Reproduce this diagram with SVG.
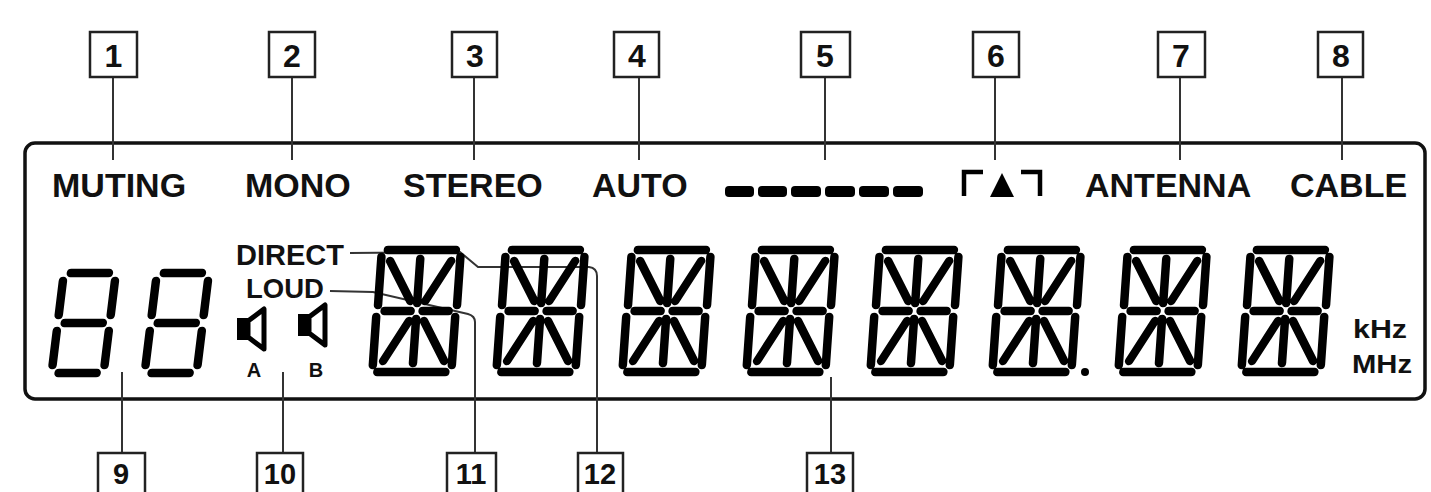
<svg xmlns="http://www.w3.org/2000/svg" width="1431" height="492" viewBox="0 0 1431 492">
<style>
.bx{fill:#fff;stroke:#222;stroke-width:2.5}
.num{font-family:"Liberation Sans",Arial,sans-serif;font-weight:bold;font-size:32px;fill:#111;text-anchor:middle}
.bnum{font-size:29px}
.lbl{font-family:"Liberation Sans",Arial,sans-serif;font-weight:bold;font-size:34px;fill:#111}
.sm{font-family:"Liberation Sans",Arial,sans-serif;font-weight:bold;fill:#111}
.seg{stroke:#000;stroke-width:8.5;stroke-linecap:round;fill:none}
.con{stroke:#333;stroke-width:2;fill:none}
</style>
<defs>
<g id="d14">
<path class="seg" d="M11,-127 H79 M9,-5 H77 M5,-120 V-72 M4,-60 V-12 M84,-120 V-72 M83,-60 V-12 M12,-66 H38 M50,-66 H76 M44,-118 V-74 M44,-58 V-14 M14,-116 L37,-76 M75,-116 L52,-76 M37,-56 L14,-16 M52,-56 L75,-16"/>
</g>
<g id="d7">
<path class="seg" d="M11,-105 H49 M56,-97 V-63 M56,-47 V-13 M11,-5 H49 M4,-47 V-13 M4,-97 V-63 M11,-55 H49"/>
</g>
</defs>

<g id="display">
<rect x="25" y="143" width="1400" height="256" rx="10" ry="10" fill="none" stroke="#111" stroke-width="3.5"/>
</g>

<g id="connectors">
<line class="con" x1="113" y1="77" x2="113" y2="160"/>
<line class="con" x1="292" y1="77" x2="292" y2="160"/>
<line class="con" x1="474" y1="77" x2="474" y2="160"/>
<line class="con" x1="639" y1="77" x2="639" y2="160"/>
<line class="con" x1="825" y1="77" x2="825" y2="160"/>
<line class="con" x1="995" y1="77" x2="995" y2="160"/>
<line class="con" x1="1180" y1="77" x2="1180" y2="160"/>
<line class="con" x1="1342" y1="77" x2="1342" y2="160"/>
<line class="con" x1="122" y1="372" x2="122" y2="453"/>
<line class="con" x1="283" y1="372" x2="283" y2="453"/>
<path class="con" d="M330,291 L373,292 L468,314 Q475,316 475,322 V453"/>
<path class="con" d="M350,253 L460,252 L478,267 L589,267 Q597,268 597,276 V453"/>
<line class="con" x1="831" y1="377" x2="831" y2="453"/>
</g>

<g id="n1"><rect class="bx" x="90" y="32" width="47" height="45"/><text class="num" x="113.5" y="67">1</text></g>
<g id="n2"><rect class="bx" x="269" y="32" width="46" height="45"/><text class="num" x="292" y="67">2</text></g>
<g id="n3"><rect class="bx" x="452" y="32" width="45" height="45"/><text class="num" x="475" y="67">3</text></g>
<g id="n4"><rect class="bx" x="614" y="32" width="45" height="45"/><text class="num" x="637" y="67">4</text></g>
<g id="n5"><rect class="bx" x="801" y="32" width="49" height="45"/><text class="num" x="825" y="67">5</text></g>
<g id="n6"><rect class="bx" x="973" y="32" width="46" height="45"/><text class="num" x="996" y="67">6</text></g>
<g id="n7"><rect class="bx" x="1158" y="32" width="47" height="45"/><text class="num" x="1181" y="67">7</text></g>
<g id="n8"><rect class="bx" x="1318" y="32" width="45" height="45"/><text class="num" x="1341" y="67">8</text></g>

<g id="n9"><rect class="bx" x="98" y="453" width="47" height="50"/><text class="num bnum" x="121" y="484">9</text></g>
<g id="n10"><rect class="bx" x="257" y="453" width="46" height="50"/><text class="num bnum" x="280" y="484">10</text></g>
<g id="n11"><rect class="bx" x="447" y="453" width="49" height="50"/><text class="num bnum" x="471" y="484">11</text></g>
<g id="n12"><rect class="bx" x="578" y="453" width="45" height="50"/><text class="num bnum" x="600" y="484">12</text></g>
<g id="n13"><rect class="bx" x="807" y="453" width="46" height="50"/><text class="num bnum" x="830" y="484">13</text></g>

<g id="top-labels">
<text class="lbl" x="52" y="197">MUTING</text>
<text class="lbl" x="245" y="197">MONO</text>
<text class="lbl" x="403" y="197">STEREO</text>
<text class="lbl" x="592" y="197">AUTO</text>
<g id="dashes" fill="#000">
<rect x="725" y="186" width="29" height="11" rx="4"/>
<rect x="758" y="186" width="29" height="11" rx="4"/>
<rect x="791" y="186" width="30" height="11" rx="4"/>
<rect x="825" y="186" width="30" height="11" rx="4"/>
<rect x="859" y="186" width="30" height="11" rx="4"/>
<rect x="893" y="186" width="30" height="11" rx="4"/>
</g>
<g id="tape-symbol">
<path d="M964,196 V172 H983" fill="none" stroke="#000" stroke-width="4.5"/>
<polygon points="990,197 1002,173 1014,197" fill="#000"/>
<path d="M1021,172 H1040 V196" fill="none" stroke="#000" stroke-width="4.5"/>
</g>
<text class="lbl" x="1085" y="197">ANTENNA</text>
<text class="lbl" x="1290" y="197">CABLE</text>
</g>

<g id="band-digits">
<use href="#d7" transform="translate(47,378) skewX(-7)"/>
<use href="#d7" transform="translate(140,378) skewX(-7)"/>
</g>

<g id="indicators">
<text class="sm" x="236" y="265" font-size="29">DIRECT</text>
<text class="sm" x="246" y="298" font-size="27.5">LOUD</text>
<g id="speaker-a">
<rect x="237" y="318" width="11" height="22" fill="#000"/>
<polygon points="248,321 264,309 264,349 248,337" fill="#fff" stroke="#000" stroke-width="5" stroke-linejoin="round"/>
</g>
<g id="speaker-b">
<rect x="298" y="314" width="11" height="22" fill="#000"/>
<polygon points="309,317 325,305 325,345 309,333" fill="#fff" stroke="#000" stroke-width="5" stroke-linejoin="round"/>
</g>
<text class="sm" x="254" y="377" font-size="20" text-anchor="middle">A</text>
<text class="sm" x="316" y="377" font-size="20" text-anchor="middle">B</text>
</g>

<g id="main-digits">
<use href="#d14" transform="translate(368,377) skewX(-4)"/>
<use href="#d14" transform="translate(492,377) skewX(-4)"/>
<use href="#d14" transform="translate(618,377) skewX(-4)"/>
<use href="#d14" transform="translate(742,377) skewX(-4)"/>
<use href="#d14" transform="translate(866,377) skewX(-4)"/>
<use href="#d14" transform="translate(988,377) skewX(-4)"/>
<circle cx="1085" cy="372" r="4" fill="#000"/>
<use href="#d14" transform="translate(1114,377) skewX(-4)"/>
<use href="#d14" transform="translate(1237,377) skewX(-4)"/>
</g>

<g id="units">
<text class="sm" x="1353" y="338" font-size="25" textLength="54" lengthAdjust="spacingAndGlyphs">kHz</text>
<text class="sm" x="1352" y="373" font-size="25" textLength="60" lengthAdjust="spacingAndGlyphs">MHz</text>
</g>
</svg>
